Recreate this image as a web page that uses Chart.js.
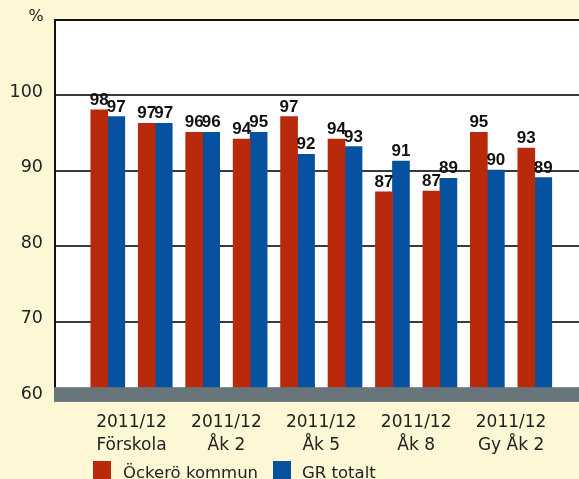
<!DOCTYPE html>
<html>
<head>
<meta charset="utf-8">
<script src="https://cdn.jsdelivr.net/npm/chart.js@4.4.1/dist/chart.umd.min.js"></script>
<style>
  html, body { margin: 0; padding: 0; background: #fef7d6; overflow: hidden; }
  #wrap { width: 579px; height: 479px; }
</style>
</head>
<body>
<div id="wrap"><canvas id="c" width="579" height="479"></canvas></div>
<script>
// ---- data ----
const categories = [
  ["2011/12", "Förskola"],
  ["2011/12", "Åk 2"],
  ["2011/12", "Åk 5"],
  ["2011/12", "Åk 8"],
  ["2011/12", "Gy Åk 2"]
];
const seriesNames = ["Öckerö kommun", "GR totalt"];
const ockeroValues = [98.1, 96.3, 95.1, 94.2, 97.2, 94.2, 87.2, 87.3, 95.1, 93.0];
const grValues     = [97.2, 96.3, 95.1, 95.1, 92.2, 93.2, 91.3, 89.0, 90.1, 89.1];
const ockeroLabels = ["98", "97", "96", "94", "97", "94", "87", "87", "95", "93"];
const grLabels     = ["97", "97", "96", "95", "92", "93", "91", "89", "90", "89"];
const yTicks = [60, 70, 80, 90, 100, 110];
const yUnit = "%";

// ---- styles ----
const RED = "#b9290c";
const BLUE = "#0652a0";
const BAND = "#68767c";
const TEXT = "#222222";

const toPoints = arr => arr.map((v, i) => ({ x: i, y: v }));

const plotBg = {
  id: "plotBg",
  beforeDraw(chart) {
    const { ctx, chartArea: a } = chart;
    ctx.save();
    ctx.fillStyle = "#ffffff";
    ctx.fillRect(a.left, a.top, a.right - a.left, a.bottom - a.top);
    ctx.restore();
  }
};

const bandAndLabels = {
  id: "bandAndLabels",
  afterDatasetsDraw(chart) {
    const { ctx, chartArea: a, scales } = chart;
    const y = scales.y;
    ctx.save();
    // grey base band
    const top = y.getPixelForValue(61.3);
    const bot = y.getPixelForValue(59.35);
    ctx.fillStyle = BAND;
    ctx.fillRect(a.left - 1, top, a.right - a.left + 1, bot - top);
    // value labels
    ctx.fillStyle = "#111";
    ctx.font = "bold 17px 'Liberation Sans', Arial, sans-serif";
    ctx.textAlign = "center";
    ctx.textBaseline = "alphabetic";
    chart.data.datasets.forEach((ds, di) => {
      const meta = chart.getDatasetMeta(di);
      meta.data.forEach((el, i) => {
        ctx.fillText(ds.valueLabels[i], el.x, el.y - 5);
      });
    });
    // unit label
    ctx.fillStyle = TEXT;
    ctx.font = "16px 'DejaVu Sans', sans-serif";
    ctx.textAlign = "center";
    ctx.fillText(yUnit, a.left - 19, a.top + 1);
    // legend
    ctx.font = "16.5px 'DejaVu Sans', sans-serif";
    ctx.textAlign = "left";
    const legendX = [93, 273];
    chart.data.datasets.forEach((ds, di) => {
      const x0 = legendX[di];
      ctx.fillStyle = ds.backgroundColor;
      ctx.fillRect(x0, 461, 18, 20);
      ctx.fillStyle = TEXT;
      ctx.fillText(ds.label, x0 + 30 - (di ? 1 : 0), 478);
    });
    ctx.restore();
  }
};

new Chart(document.getElementById("c"), {
  type: "bar",
  data: {
    datasets: [
      { label: seriesNames[0], data: toPoints(ockeroValues), valueLabels: ockeroLabels,
        backgroundColor: RED, barThickness: 17 },
      { label: seriesNames[1], data: toPoints(grValues), valueLabels: grLabels,
        backgroundColor: BLUE, barThickness: 17 }
    ]
  },
  options: {
    responsive: false,
    animation: false,
    devicePixelRatio: 1,
    layout: { padding: { top: 20, right: 0, bottom: 0, left: 0 } },
    plugins: { legend: { display: false }, tooltip: { enabled: false } },
    scales: {
      x: {
        type: "linear",
        offset: false,
        min: -1.113,
        max: 9.932,
        grid: { display: false, offset: false },
        border: { display: false },
        afterBuildTicks: s => { s.ticks = categories.map((c, k) => ({ value: 2 * k + 0.5 })); },
        afterFit: s => { s.height = 82; s.paddingLeft = 0; s.paddingRight = 0; },
        ticks: {
          autoSkip: false,
          maxRotation: 0,
          padding: 7,
          color: TEXT,
          font: { family: "'DejaVu Sans', sans-serif", size: 17, lineHeight: 1.3 },
          callback: (v, i) => categories[i]
        }
      },
      y: {
        min: yTicks[0],
        max: yTicks[yTicks.length - 1],
        afterBuildTicks: s => { s.ticks = yTicks.map(v => ({ value: v })); },
        afterFit: s => { s.width = 55; s.paddingTop = 0; s.paddingBottom = 0; },
        grid: {
          drawTicks: false,
          lineWidth: 2,
          color: c => c.tick.value === yTicks[0] ? "rgba(0,0,0,0)" :
                      (c.tick.value === yTicks[yTicks.length - 1] ? "#111" : "#3a3a3a")
        },
        border: { display: true, color: "#111", width: 2 },
        ticks: {
          padding: 12,
          labelOffset: -3,
          color: TEXT,
          font: { family: "'DejaVu Sans', sans-serif", size: 17.5 },
          callback: v => v === yTicks[yTicks.length - 1] ? "" : String(v)
        }
      }
    }
  },
  plugins: [plotBg, bandAndLabels]
});
</script>
</body>
</html>
